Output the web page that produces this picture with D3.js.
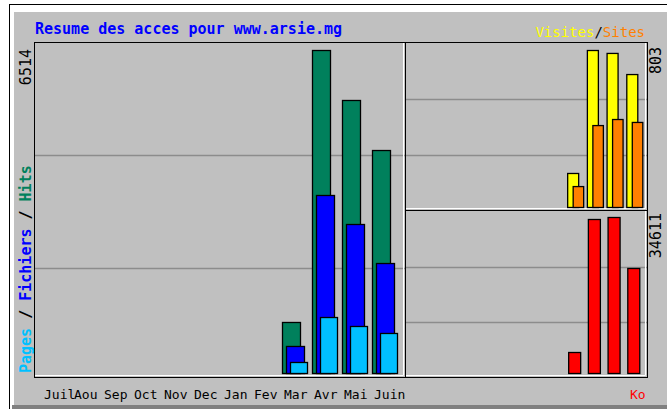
<!DOCTYPE html>
<html>
<head>
<meta charset="utf-8">
<script src="https://cdn.jsdelivr.net/npm/d3@7"></script>
<style>
body { margin: 0; background: #fff; }
svg { display: block; }
text { font-family: "DejaVu Sans Mono", monospace; }
</style>
</head>
<body>
<svg id="chart" width="667" height="409"></svg>
<script>
// monthly totals, Juil -> Juin
var months = ["Juil", "Aou", "Sep", "Oct", "Nov", "Dec", "Jan", "Fev", "Mar", "Avr", "Mai", "Juin"];
var hits   = [0, 0, 0, 0, 0, 0, 0, 0, 1029, 6514, 5506, 4497];
var files  = [0, 0, 0, 0, 0, 0, 0, 0, 545, 3590, 3005, 2218];
var pages  = [0, 0, 0, 0, 0, 0, 0, 0, 222, 1129, 948, 807];
var visits = [0, 0, 0, 0, 0, 0, 0, 0, 174, 803, 788, 680];
var sites  = [0, 0, 0, 0, 0, 0, 0, 0, 107, 419, 450, 435];
var kbytes = [0, 0, 0, 0, 0, 0, 0, 0, 4659, 34167, 34611, 23296];

var svg = d3.select("#chart");

// outer frame
svg.append("rect").attr("x", 14).attr("y", 12).attr("width", 653).attr("height", 393).attr("fill", "#c0c0c0");
svg.append("rect").attr("x", 12).attr("y", 405).attr("width", 655).attr("height", 4).attr("fill", "#808080");
svg.append("line").attr("x1", 9.5).attr("x2", 9.5).attr("y1", 4).attr("y2", 409).attr("stroke", "#000");
svg.append("line").attr("x1", 9).attr("x2", 667).attr("y1", 4.5).attr("y2", 4.5).attr("stroke", "#000");

// panels
function panel(x0, y0, x1, y1, grid) {
  var g = svg.append("g");
  grid.forEach(function(gy) {
    g.append("line").attr("x1", x0).attr("x2", x1).attr("y1", gy).attr("y2", gy)
      .attr("stroke", "#8c8c8c").attr("stroke-width", 1.5);
  });
  g.append("path").attr("d", "M" + (x1 - 1.5) + "," + (y0 + 1) + "V" + (y1 - 1.5) + "H" + (x0 + 1))
    .attr("fill", "none").attr("stroke", "#fff");
  g.append("rect").attr("x", x0 + 0.5).attr("y", y0 + 0.5).attr("width", x1 - x0).attr("height", y1 - y0)
    .attr("fill", "none").attr("stroke", "#000");
}
panel(34, 42, 405, 377, [155.5, 268.5]);
panel(405, 42, 647, 210, [99.5, 155.5]);
panel(405, 210, 647, 377, [267.5, 322.5]);

// scales
var xMain = d3.scaleBand().domain(months).range([40, 400]);
var xSide = d3.scaleBand().domain(months).range([407.5, 644]);
var yMain = d3.scaleLinear().domain([0, d3.max(hits)]).range([373, 50]);
var yVis  = d3.scaleLinear().domain([0, d3.max(visits)]).range([207, 50]);
var yKo   = d3.scaleLinear().domain([0, d3.max(kbytes)]).range([373, 217]);

function bars(values, x, y, off, w, color) {
  var data = months.map(function(m, i) { return {m: m, v: values[i]}; })
    .filter(function(d) { return d.v > 0; });
  svg.append("g").selectAll("rect")
    .data(data)
    .enter()
      .append("rect")
      .attr("x", function(d) { return x(d.m) + off + 0.5; })
      .attr("y", function(d) { return y(d.v) + 0.5; })
      .attr("width", w)
      .attr("height", function(d) { return y(0) - y(d.v); })
      .attr("fill", color)
      .attr("stroke", "#000")
      .attr("stroke-width", 1.3);
}
bars(hits,  xMain, yMain, 2, 18, "#00805c");
bars(files, xMain, yMain, 6, 18, "#0000ff");
bars(pages, xMain, yMain, 10, 17, "#00c0ff");
bars(visits, xSide, yVis, 2, 11, "#ffff00");
bars(sites,  xSide, yVis, 7.5, 10.5, "#ff8000");
bars(kbytes, xSide, yKo, 3, 12, "#ff0000");

// texts
svg.append("text").attr("x", 35).attr("y", 34)
  .attr("font-size", 15).attr("font-weight", "bold").attr("fill", "#0000ff")
  .text("Resume des acces pour www.arsie.mg");

var vs = svg.append("text").attr("x", 645).attr("y", 37).attr("font-size", 14).attr("text-anchor", "end");
vs.append("tspan").attr("fill", "#ffff00").text("Visites");
vs.append("tspan").attr("fill", "#000").text("/");
vs.append("tspan").attr("fill", "#ff8000").text("Sites");

svg.append("g").selectAll("text")
  .data(months)
  .enter()
    .append("text")
    .attr("x", function(d) { return xMain(d) + 4; })
    .attr("y", 399)
    .attr("font-size", 13)
    .attr("fill", "#000")
    .text(function(d) { return d; });

svg.append("text").attr("x", 630).attr("y", 399).attr("font-size", 13).attr("fill", "#ff0000").text("Ko");

var lt = svg.append("text").attr("transform", "translate(31,373) rotate(-90)")
  .attr("font-size", 15).attr("font-weight", "bold");
lt.append("tspan").attr("fill", "#00c0ff").text("Pages");
lt.append("tspan").attr("fill", "#000").text(" / ");
lt.append("tspan").attr("fill", "#0000ff").text("Fichiers");
lt.append("tspan").attr("fill", "#000").text(" / ");
lt.append("tspan").attr("fill", "#00805c").text("Hits");

function upLabel(x, y, t) {
  svg.append("text").attr("transform", "translate(" + x + "," + y + ") rotate(-90)")
    .attr("font-size", 15).attr("text-anchor", "end").attr("fill", "#000").text(t);
}
upLabel(31, 49, d3.max(hits));
upLabel(661, 47, d3.max(visits));
upLabel(661, 213, d3.max(kbytes));
</script>
</body>
</html>
